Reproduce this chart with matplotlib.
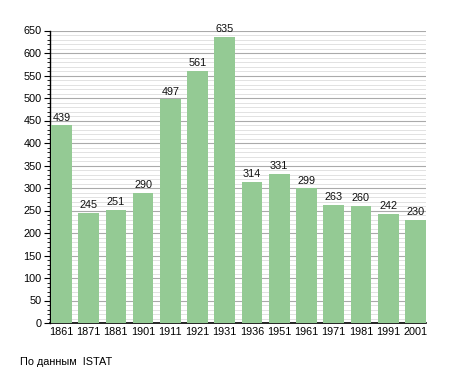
import matplotlib
matplotlib.use("Agg")
import matplotlib.pyplot as plt
from matplotlib.ticker import MultipleLocator

years = ["1861", "1871", "1881", "1901", "1911", "1921", "1931",
         "1936", "1951", "1961", "1971", "1981", "1991", "2001"]
population = [439, 245, 251, 290, 497, 561, 635, 314, 331, 299, 263, 260, 242, 230]
source_note = "По данным  ISTAT"

plt.rcParams['font.family'] = ['Liberation Sans', 'DejaVu Sans']

fig = plt.figure(figsize=(4.55, 3.73), dpi=100)
ax = fig.add_axes([50/455, 1-323/373, 376/455, (323-30.5)/373])

x = list(range(len(years)))
ax.bar(x, population, width=0.76, color="#94ca94", zorder=3)
for xi, v in zip(x, population):
    ax.annotate(str(v), (xi, v), xytext=(0, 2), textcoords="offset points",
                ha="center", va="bottom", fontsize=7.8, color="#111111", zorder=4)

ax.set_xlim(-0.42, 13.39)
ax.set_ylim(0, 650)
ax.set_xticks(x)
ax.set_xticklabels(years, fontsize=7.8)
ax.yaxis.set_major_locator(MultipleLocator(50))
ax.yaxis.set_minor_locator(MultipleLocator(10))
ax.tick_params(axis='y', which='major', length=4, width=0.8, labelsize=7.8, pad=2)
ax.tick_params(axis='y', which='minor', length=2, width=0.6)
ax.tick_params(axis='x', length=0, labelsize=7.8, pad=3)
ax.grid(axis='y', which='major', color="#aaaaaa", linewidth=0.8, zorder=1)
ax.grid(axis='y', which='minor', color="#dddddd", linewidth=0.6, zorder=0)
for s in ("top", "right"):
    ax.spines[s].set_visible(False)
ax.spines["left"].set_linewidth(1.0)
ax.spines["bottom"].set_linewidth(1.2)

fig.text(20/455, 1-362/373, source_note, fontsize=7.8, ha="left", va="center")

fig.savefig("out.png", dpi=100)
